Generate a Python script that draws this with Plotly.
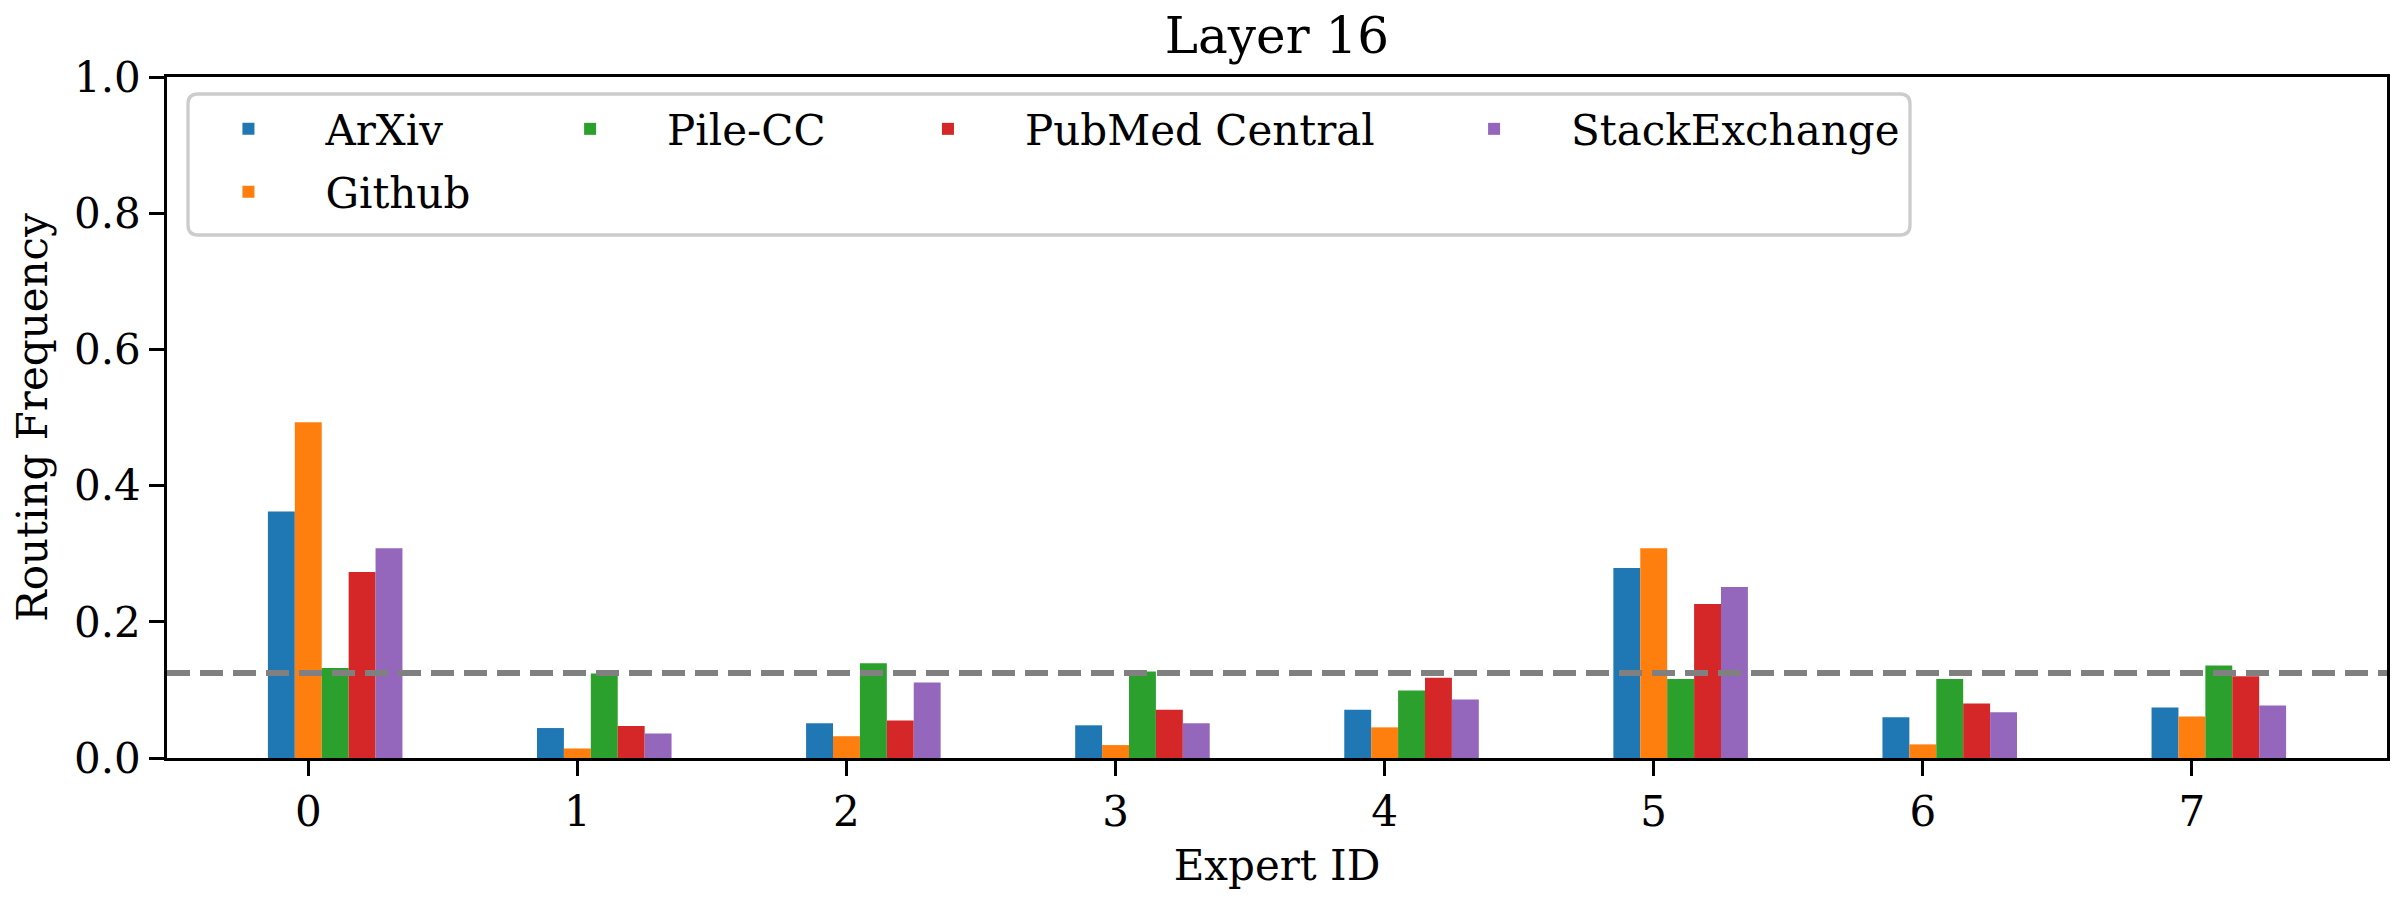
import plotly.graph_objects as go

# ---------------- data ----------------
expert_ids = [0, 1, 2, 3, 4, 5, 6, 7]
arxiv = [0.362, 0.044, 0.051, 0.048, 0.071, 0.279, 0.060, 0.074]
github = [0.493, 0.014, 0.032, 0.019, 0.045, 0.308, 0.020, 0.061]
pile_cc = [0.132, 0.124, 0.139, 0.127, 0.099, 0.116, 0.116, 0.136]
pubmed = [0.273, 0.047, 0.055, 0.071, 0.118, 0.226, 0.080, 0.120]
stackexchange = [0.308, 0.036, 0.111, 0.051, 0.086, 0.251, 0.067, 0.077]
uniform_level = 1 / 8
y_ticks = [0.0, 0.2, 0.4, 0.6, 0.8, 1.0]

series = [
    ("ArXiv", arxiv, "#1f77b4", "legend"),
    ("Github", github, "#ff7f0e", "legend5"),
    ("Pile-CC", pile_cc, "#2ca02c", "legend2"),
    ("PubMed Central", pubmed, "#d62728", "legend3"),
    ("StackExchange", stackexchange, "#9467bd", "legend4"),
]

FONT = "DejaVu Serif"
BAR_W = 0.1
PX = 3.33  # 0.8pt at 300 dpi

fig = go.Figure()
for i, (name, vals, color, lg) in enumerate(series):
    fig.add_trace(go.Bar(
        x=expert_ids, y=vals, name=name,
        width=BAR_W, offset=(i - 1) * BAR_W - BAR_W / 2,
        marker=dict(color=color, line=dict(width=0)),
        legend=lg,
    ))

# uniform routing reference line
fig.add_shape(type="line", xref="paper", x0=0, x1=1, yref="y",
              y0=uniform_level, y1=uniform_level, layer="above",
              line=dict(color="#808080", width=6, dash="23px,10px"))

# legend frame (rounded, light grey)
x1, x2, yt, yb, r = 21, 1743, -17, -158, 10
path = (f"M{x1+r},{yt} L{x2-r},{yt} Q{x2},{yt} {x2},{yt-r} L{x2},{yb+r} "
        f"Q{x2},{yb} {x2-r},{yb} L{x1+r},{yb} Q{x1},{yb} {x1},{yb+r} "
        f"L{x1},{yt-r} Q{x1},{yt} {x1+r},{yt} Z")
fig.add_shape(type="path", xref="paper", yref="paper", xsizemode="pixel",
              ysizemode="pixel", xanchor=0, yanchor=1, path=path,
              line=dict(color="#cccccc", width=PX),
              fillcolor="rgba(255,255,255,0.8)", layer="below")

leg_common = dict(orientation="v", bgcolor="rgba(0,0,0,0)", borderwidth=0,
                  font=dict(family=FONT, size=42, color="black"),
                  itemwidth=144, yanchor="top", xanchor="left",
                  itemclick=False, itemdoubleclick=False)
ROW1_Y, ROW2_Y = 0.9735, 0.8810
COL1_X = 0.0020
legend_pos = {
    "legend": (COL1_X, ROW1_Y), "legend5": (COL1_X, ROW2_Y),
    "legend2": (0.1559, ROW1_Y), "legend3": (0.3171, ROW1_Y),
    "legend4": (0.5631, ROW1_Y),
}
legends = {k: dict(x=v[0], y=v[1], **leg_common) for k, v in legend_pos.items()}

# page body has an 8px default margin: the figure is sized to fill 2400x900 exactly
fig.update_layout(
    width=2384, height=884,
    margin=dict(l=159, r=5, t=69, b=134, autoexpand=False),
    paper_bgcolor="white", plot_bgcolor="white",
    font=dict(family=FONT, size=42, color="black"),
    barmode="overlay",
    showlegend=True,
    title=dict(text="Layer 16", font=dict(family=FONT, size=50, color="black"),
               x=0.5, xref="paper", xanchor="center",
               y=1, yref="paper", yanchor="bottom", pad=dict(b=24)),
    **legends,
)

fig.update_xaxes(
    range=[-0.525, 7.725], tickmode="array", tickvals=expert_ids,
    ticktext=[str(e) for e in expert_ids],
    showline=True, mirror=True, linecolor="black", linewidth=PX,
    ticks="outside", ticklen=14.6, tickwidth=PX, tickcolor="black",
    showgrid=False, zeroline=False,
    tickfont=dict(family=FONT, size=42, color="black"),
    title=dict(text="Expert ID", font=dict(family=FONT, size=42, color="black"), standoff=16),
)
fig.update_yaxes(
    range=[0, 1.0], tickmode="array", tickvals=y_ticks,
    ticktext=[f"{v:.1f}" for v in y_ticks],
    showline=True, mirror=True, linecolor="black", linewidth=PX,
    ticks="outside", ticklen=14.6, tickwidth=PX, tickcolor="black",
    showgrid=False, zeroline=False,
    tickfont=dict(family=FONT, size=42, color="black"),
    title=dict(text="Routing Frequency", font=dict(family=FONT, size=42, color="black"), standoff=22),
)

fig.write_html("out.html")
